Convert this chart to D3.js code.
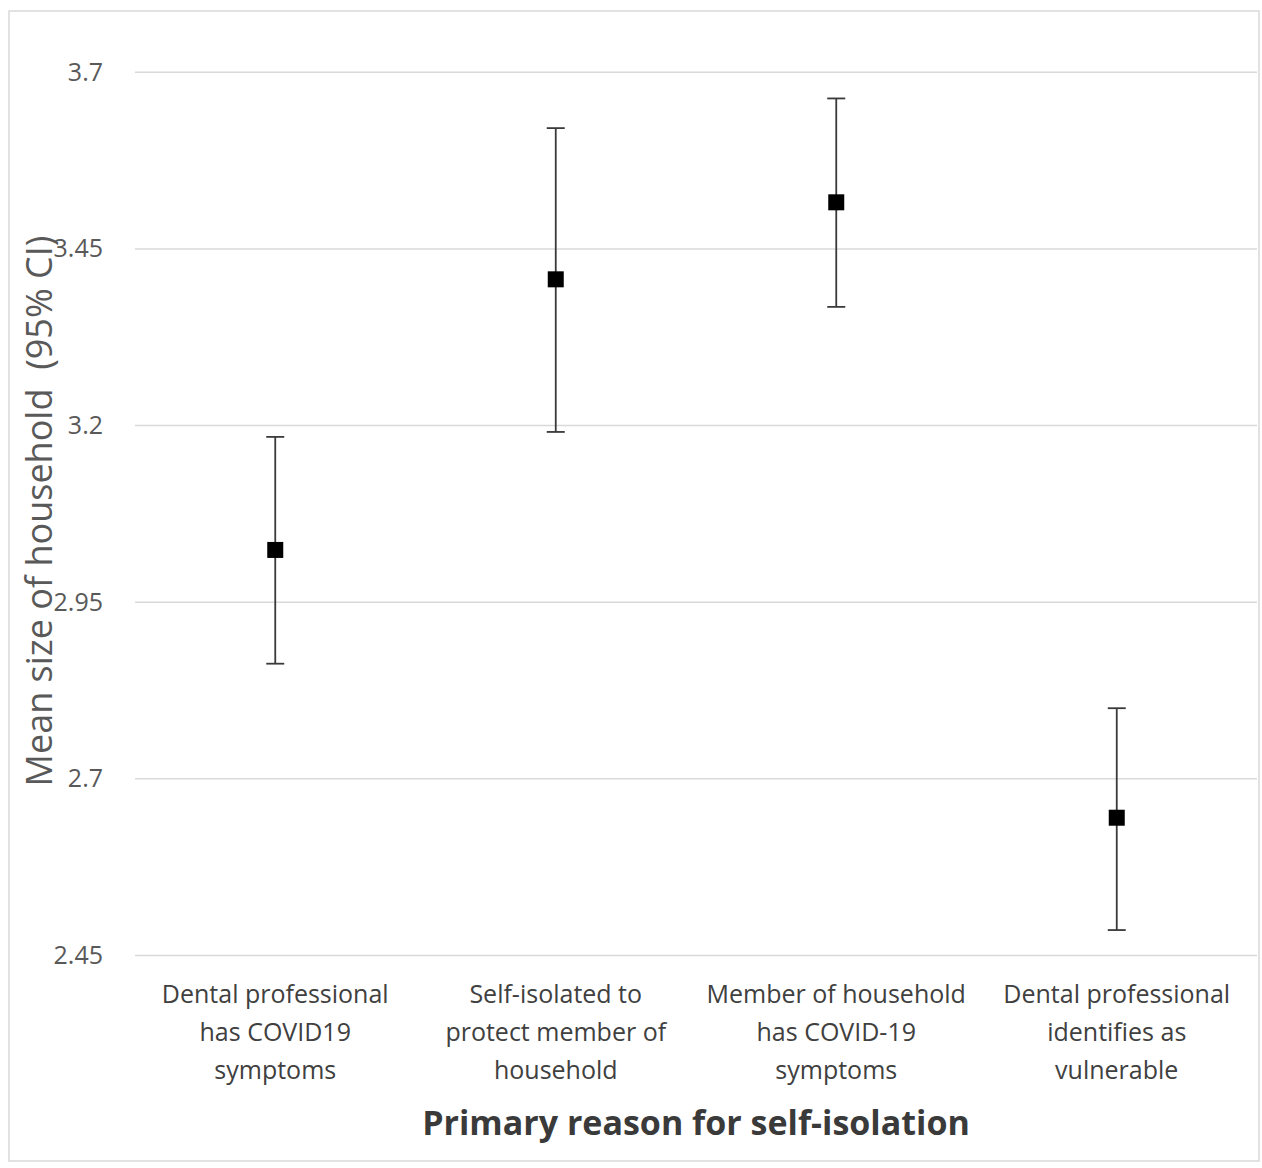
<!DOCTYPE html>
<html><head><meta charset="utf-8">
<script src="https://cdn.jsdelivr.net/npm/d3@7"></script>
<style>body{margin:0;background:#fff}svg{display:block}</style>
</head><body>
<script>
const categories = [
  ["Dental professional","has COVID19","symptoms"],
  ["Self-isolated to","protect member of","household"],
  ["Member of household","has COVID-19","symptoms"],
  ["Dental professional","identifies as","vulnerable"]
];
const means = [3.024, 3.407, 3.516, 2.645];
const lowerCI = [2.863, 3.191, 3.368, 2.486];
const upperCI = [3.184, 3.621, 3.663, 2.800];
const yTicks = [2.45, 2.7, 2.95, 3.2, 3.45, 3.7];
const yTitle = "Mean size of household  (95% CI)";
const xTitle = "Primary reason for self-isolation";

const W = 1262, H = 1168;
const m = {left:135, right:5, top:72.3, bottom:H-955.5};
const svg = d3.select("body").append("svg").attr("width",W).attr("height",H);
svg.append("rect").attr("x",9).attr("y",11).attr("width",1250).attr("height",1150)
  .attr("fill","#fff").attr("stroke","#d9d9d9").attr("stroke-width",1.5);

const x = d3.scaleBand().domain(d3.range(categories.length)).range([m.left, W-m.right]);
const y = d3.scaleLinear().domain([2.45,3.7]).range([H-m.bottom, m.top]);

const font = "'Open Sans', 'Liberation Sans', sans-serif";

// gridlines
svg.append("g").selectAll("line").data(yTicks).join("line")
  .attr("x1",m.left).attr("x2",W-m.right)
  .attr("y1",d=>y(d)).attr("y2",d=>y(d))
  .attr("stroke","#d9d9d9").attr("stroke-width",1.5);

// y axis labels
const yAxis = d3.axisLeft(y).tickValues(yTicks).tickSize(0).tickPadding(0).tickFormat(d=>String(d));
const ga = svg.append("g").attr("transform",`translate(103,0)`).call(yAxis);
ga.select(".domain").remove();
ga.selectAll("text").attr("font-family",font).attr("font-size",25).attr("fill","#595959");

// y title
svg.append("text").attr("transform",`translate(52,511) rotate(-90)`)
  .attr("text-anchor","middle").attr("font-family",font).attr("font-size",36).attr("fill","#595959")
  .attr("xml:space","preserve").text(yTitle);

// error bars
const g = svg.append("g");
const cx = i => x(i) + x.bandwidth()/2;
g.selectAll("line.v").data(means).join("line").attr("class","v")
  .attr("x1",(d,i)=>cx(i)).attr("x2",(d,i)=>cx(i))
  .attr("y1",(d,i)=>y(lowerCI[i])).attr("y2",(d,i)=>y(upperCI[i]))
  .attr("stroke","#3a3a3a").attr("stroke-width",1.8);
[lowerCI, upperCI].forEach(arr=>{
  g.append("g").selectAll("line").data(arr).join("line")
   .attr("x1",(d,i)=>cx(i)-9).attr("x2",(d,i)=>cx(i)+9)
   .attr("y1",d=>y(d)).attr("y2",d=>y(d))
   .attr("stroke","#3a3a3a").attr("stroke-width",1.8);
});
g.selectAll("rect").data(means).join("rect")
  .attr("x",(d,i)=>cx(i)-8).attr("y",d=>y(d)-8).attr("width",16).attr("height",16)
  .attr("fill","#000");

// category labels
const cl = svg.append("g");
categories.forEach((lines,i)=>{
  const t = cl.append("text").attr("text-anchor","middle").attr("font-family",font)
    .attr("font-size",25).attr("fill","#404040");
  lines.forEach((ln,j)=>{
    t.append("tspan").attr("x",cx(i)).attr("y",1003+j*38).text(ln);
  });
});

svg.append("text").attr("x",(m.left+W-m.right)/2).attr("y",1135).attr("text-anchor","middle")
  .attr("font-family",font).attr("font-size",34).attr("font-weight","bold").attr("fill","#3a3a3a")
  .text(xTitle);
</script>
</body></html>
